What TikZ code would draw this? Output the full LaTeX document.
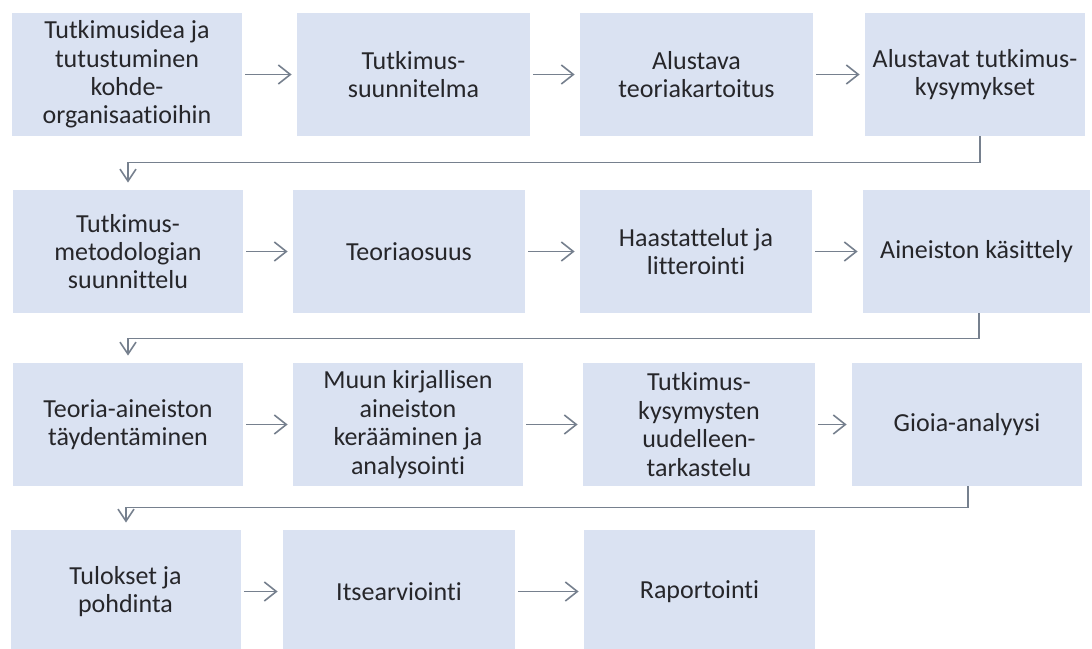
\documentclass[tikz,border=0pt]{standalone}
\usepackage{fontspec}
\setmainfont{Carlito}[Ligatures={NoCommon}]
\usetikzlibrary{arrows.meta}
\definecolor{boxfill}{RGB}{218,226,242}
\definecolor{txt}{RGB}{38,38,42}
\definecolor{linegray}{RGB}{118,128,142}
\tikzset{
  stage/.style={draw=none, fill=boxfill, inner sep=0pt, align=center,
    text=txt, font=\fontsize{13pt}{14.2pt}\selectfont,
    minimum width=115pt, minimum height=61.5pt},
  flow/.style={draw=linegray, line width=0.8pt,
    -{Straight Barb[length=6pt,width=9.5pt,line width=0.8pt]},
    shorten <=1.5pt, shorten >=2.5pt},
  turn/.style={draw=linegray, line width=0.9pt,
    -{Straight Barb[length=6pt,width=8pt,line width=0.8pt]},
    shorten >=3.5pt}
}
\begin{document}
\begin{tikzpicture}[x=0.5pt,y=-0.5pt]
\useasboundingbox (0,0) rectangle (1092,648);
\clip (0,0) rectangle (1092,648);

% row 1
\node[stage] (n11) at (127,74.5) {Tutkimusidea ja\\tutustuminen\\kohde-\\organisaatioihin};
\node[stage, minimum width=116.5pt] (n12) at (413.5,74.5) {Tutkimus-\\suunnitelma};
\node[stage, minimum width=116.5pt] (n13) at (696.5,74.5) {Alustava\\teoriakartoitus};
\node[stage, minimum width=110pt] (n14) at (975,74.5) {Alustavat tutkimus-\\kysymykset};

% row 2
\node[stage] (n21) at (128,251.5) {Tutkimus-\\metodologian\\suunnittelu};
\node[stage, minimum width=116pt] (n22) at (409,251.5) {Teoriaosuus};
\node[stage, minimum width=116pt] (n23) at (696,251.5) {Haastattelut ja\\litterointi};
\node[stage, minimum width=113.5pt] (n24) at (976.5,251.5) {Aineiston käsittely};

% row 3
\node[stage] (n31) at (128,424.5) {Teoria-aineiston\\täydentäminen};
\node[stage] (n32) at (408,424.5) {Muun kirjallisen\\aineiston\\kerääminen ja\\analysointi};
\node[stage, minimum width=116pt] (n33) at (699,424.5) {Tutkimus-\\kysymysten\\uudelleen-\\tarkastelu};
\node[stage] (n34) at (967,424.5) {Gioia-analyysi};

% row 4
\node[stage] (n41) at (125.5,591.5) {Tulokset ja\\pohdinta};
\node[stage, minimum width=116pt] (n42) at (399,591.5) {Itsearviointi};
\node[stage, minimum width=115.5pt] (n43) at (699.5,591.5) {Raportointi};

% arrows within rows
\draw[flow] (n11) -- (n12);
\draw[flow] (n12) -- (n13);
\draw[flow] (n13) -- (n14);
\draw[flow] (n21) -- (n22);
\draw[flow] (n22) -- (n23);
\draw[flow] (n23) -- (n24);
\draw[flow] (n31) -- (n32);
\draw[flow] (n32) -- (n33);
\draw[flow] (n33) -- (n34);
\draw[flow] (n41) -- (n42);
\draw[flow] (n42) -- (n43);

% connectors between rows
\draw[turn] ([xshift=2.5pt]n14.south) -- ++(0,26) -| (n21.north);
\draw[turn] ([xshift=1.25pt]n24.south) -- ++(0,25) -| (n31.north);
\draw[turn] ([xshift=0.5pt]n34.south) -- ++(0,21) -| ([xshift=0.25pt]n41.north);
\end{tikzpicture}
\end{document}
